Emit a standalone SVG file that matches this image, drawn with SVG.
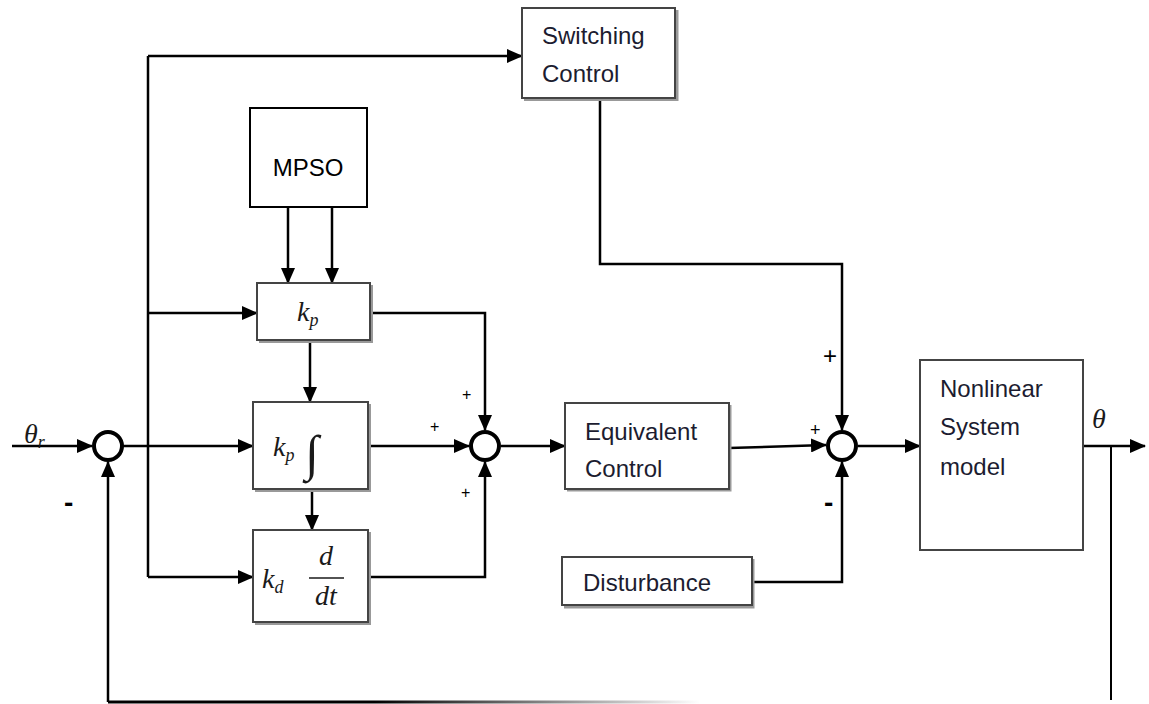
<svg xmlns="http://www.w3.org/2000/svg" width="1149" height="704" viewBox="0 0 1149 704">
<style>
.box{fill:#fff;stroke:#444;stroke-width:2}
.sh{fill:none;stroke:#999;stroke-width:3}
.ln{fill:none;stroke:#000;stroke-width:2.5}
.sum{fill:#fff;stroke:#000;stroke-width:4}
.t{font-family:"Liberation Sans",Arial,sans-serif;font-size:24px;fill:#1c1c30}
.m{font-family:"Liberation Serif","DejaVu Serif",serif;font-style:italic;fill:#1a1a1a}
.s{font-family:"Liberation Sans",Arial,sans-serif;fill:#000}
</style>
<defs>
<marker id="ah" markerUnits="userSpaceOnUse" markerWidth="16" markerHeight="14" refX="15" refY="7" orient="auto">
<path d="M0,0 L16,7 L0,14 Z" fill="#000"/>
</marker>
<linearGradient id="fade" gradientUnits="userSpaceOnUse" x1="108" y1="0" x2="700" y2="0">
<stop offset="0" stop-color="#000"/>
<stop offset="0.45" stop-color="#000"/>
<stop offset="1" stop-color="#fff"/>
</linearGradient>
</defs>

<g id="connectors">
<path class="ln" d="M12,446 H92" marker-end="url(#ah)"/>
<path d="M108,702 H700" fill="none" stroke="url(#fade)" stroke-width="3"/>
<path class="ln" d="M108,702 V462" marker-end="url(#ah)"/>
<path d="M1111,446 V700" fill="none" stroke="#000" stroke-width="2"/>
<path class="ln" d="M122,446 H253" marker-end="url(#ah)"/>
<path class="ln" d="M148,56 V577"/>
<path class="ln" d="M148,56 H522" marker-end="url(#ah)"/>
<path class="ln" d="M148,313 H257" marker-end="url(#ah)"/>
<path class="ln" d="M148,577 H253" marker-end="url(#ah)"/>
<path class="ln" d="M288,207 V283" marker-end="url(#ah)"/>
<path class="ln" d="M332,207 V283" marker-end="url(#ah)"/>
<path class="ln" d="M310,340 V402" marker-end="url(#ah)"/>
<path class="ln" d="M312,489 V530" marker-end="url(#ah)"/>
<path class="ln" d="M370,313 H485 V430" marker-end="url(#ah)"/>
<path class="ln" d="M368,446 H469" marker-end="url(#ah)"/>
<path class="ln" d="M368,577 H485 V462" marker-end="url(#ah)"/>
<path class="ln" d="M501,446 H565" marker-end="url(#ah)"/>
<path class="ln" d="M729,448 L826,445" marker-end="url(#ah)"/>
<path class="ln" d="M600,98 V264 H842 V430" marker-end="url(#ah)"/>
<path class="ln" d="M752,582 H842 V462" marker-end="url(#ah)"/>
<path class="ln" d="M858,446 H920" marker-end="url(#ah)"/>
<path class="ln" d="M1083,446 H1145" marker-end="url(#ah)"/>
</g>

<g id="sum1"><circle class="sum" cx="108" cy="446" r="14"/></g>
<g id="sum3"><circle class="sum" cx="485" cy="446" r="14"/></g>
<g id="sum2"><circle class="sum" cx="842" cy="446" r="14"/></g>

<g id="switching">
<path class="sh" d="M524,99.5 H677 V10"/>
<rect class="box" x="522" y="8" width="153" height="90"/>
<text class="t" x="542" y="44">Switching</text>
<text class="t" x="542" y="82">Control</text>
</g>

<g id="mpso">
<rect x="250" y="108" width="117" height="99" fill="#fff" stroke="#000" stroke-width="2"/>
<text class="t" x="308" y="176" text-anchor="middle" style="fill:#000">MPSO</text>
</g>

<g id="kp">
<path class="sh" d="M259,341.5 H371.5 V285"/>
<rect class="box" x="257" y="283" width="113" height="57"/>
<text class="m" x="297" y="321" font-size="28">k<tspan font-size="18" dy="5">p</tspan></text>
</g>

<g id="ki">
<path class="sh" d="M255,490.5 H369.5 V404"/>
<rect class="box" x="253" y="402" width="115" height="87"/>
<text class="m" x="273" y="456" font-size="28">k<tspan font-size="18" dy="5">p</tspan></text>
<text class="m" x="305" y="470" font-size="50">∫</text>
</g>

<g id="kd">
<path class="sh" d="M255,623.5 H369.5 V532"/>
<rect class="box" x="253" y="530" width="115" height="92"/>
<text class="m" x="262" y="588" font-size="28">k<tspan font-size="18" dy="5">d</tspan></text>
<text class="m" x="326" y="565" font-size="28" text-anchor="middle">d</text>
<line x1="309" y1="578" x2="344" y2="578" stroke="#1a1a1a" stroke-width="1.5"/>
<text class="m" x="326" y="605" font-size="28" text-anchor="middle">dt</text>
</g>

<g id="equivalent">
<path class="sh" d="M567,490 H730 V405"/>
<rect class="box" x="565" y="403" width="164" height="86"/>
<text class="t" x="585" y="440">Equivalent</text>
<text class="t" x="585" y="477">Control</text>
</g>

<g id="disturbance">
<path class="sh" d="M564,607 H753 V559"/>
<rect class="box" x="562" y="557" width="190" height="48"/>
<text class="t" x="583" y="591">Disturbance</text>
</g>

<g id="plant">
<rect class="box" x="920" y="360" width="163" height="190"/>
<text class="t" x="940" y="397">Nonlinear</text>
<text class="t" x="940" y="435">System</text>
<text class="t" x="940" y="475">model</text>
</g>

<g id="labels">
<text class="m" x="24" y="443" font-size="28">θ<tspan font-size="18" dy="5">r</tspan></text>
<text class="m" x="1092" y="428" font-size="28">θ</text>
<text class="s" x="64" y="512" font-size="28" font-weight="bold">-</text>
<text class="s" x="462" y="400" font-size="16">+</text>
<text class="s" x="430" y="432" font-size="16">+</text>
<text class="s" x="461" y="498" font-size="16">+</text>
<text class="s" x="823" y="364" font-size="24">+</text>
<text class="s" x="810" y="436" font-size="18">+</text>
<text class="s" x="824" y="512" font-size="28" font-weight="bold">-</text>
</g>
</svg>
